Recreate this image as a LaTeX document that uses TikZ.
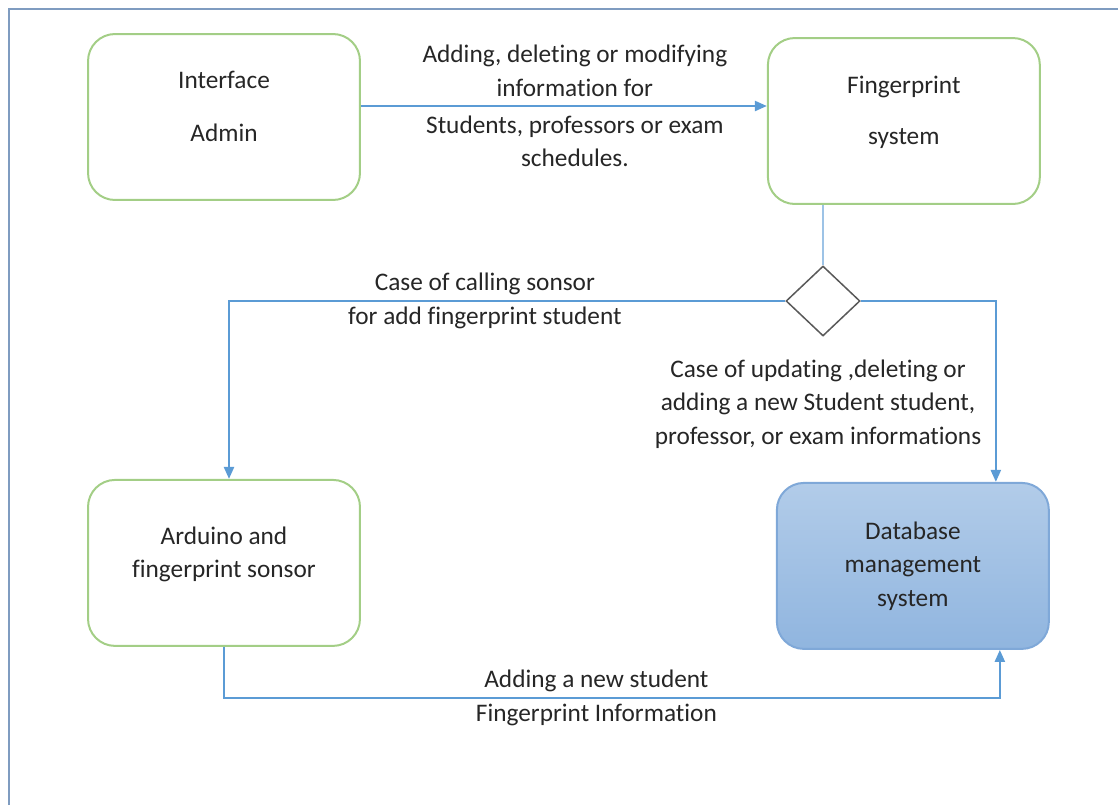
\documentclass[tikz,border=0pt]{standalone}
\usepackage{fontspec}
\setmainfont{Carlito}[Ligatures=NoCommon]
\usetikzlibrary{arrows.meta,positioning,shapes.geometric}
\definecolor{Ink}{HTML}{262626}
\definecolor{Frame}{HTML}{7F9CC0}
\definecolor{Leaf}{HTML}{A3CE86}
\definecolor{Wire}{HTML}{5B9BD5}
\definecolor{WireLight}{HTML}{9DC3E6}
\definecolor{DbTop}{HTML}{B2CCE9}
\definecolor{DbBottom}{HTML}{90B5DF}
\definecolor{DbEdge}{HTML}{7FA8D8}
\definecolor{Rim}{HTML}{595959}

\begin{document}
\begin{tikzpicture}[x=0.02cm,y=-0.02cm,
          box/.style={draw=Leaf,line width=0.04cm,rounded corners=0.54cm,minimum width=5.44cm,
            minimum height=3.32cm,align=center,text=Ink,font=\fontsize{14.4}{19}\selectfont},
          raised/.style={text depth=0.42cm},
          lbl/.style={align=center,text=Ink,font=\fontsize{14.4}{19}\selectfont,inner sep=0pt},
          flow/.style={-{Triangle[length=0.24cm,width=0.2cm]},draw=Wire,line width=0.045cm}]
        \useasboundingbox (0,0) rectangle (1118,805);
        \draw[Frame,line width=0.05cm] (9,805) -- (9,9) -- (1118,9);
        % the four blocks
        \node[box,raised] (admin) at (224,117) {Interface\\[11pt]Admin};
        \node[box,raised,right=8.12cm of admin,yshift=-0.08cm] (fp) {Fingerprint\\[10pt]system};
        \node[box,raised,below=5.56cm of admin] (ard) {Arduino and\\fingerprint sonsor};
        \node[box,draw=DbEdge,top color=DbTop,bottom color=DbBottom,below=5.54cm of fp,
          xshift=0.18cm] (db) {Database\\management\\system};
        \node[draw=Rim,line width=0.03cm,diamond,minimum width=1.48cm,minimum height=1.4cm,
          inner sep=0pt] (dec) at (823,301) {};
        % connectors
        \coordinate (tap) at ([yshift=0.22cm]admin.east);
        \draw[flow] (tap) -- (tap -| fp.west)
          node[lbl,pos=0.527] (editlbl) {Adding, deleting or modifying\\information for\\[2pt]Students, professors or exam\\schedules.};
        \draw[draw=WireLight,line width=0.05cm] (dec.north |- fp.south) -- (dec.north);
        \draw[flow] (dec.west) -| node[lbl,pos=0.27] (sensorlbl)
          {Case of calling sonsor\\for add fingerprint student} ([xshift=0.1cm]ard.north);
        \draw[flow] (dec.east) -| ([xshift=1.66cm]db.north);
        \node[lbl] (updatelbl) at (818,404)
          {Case of updating ,deleting or\\adding a new Student student,\\professor, or exam informations};
        \draw[flow] (ard.south) -- ++(0,51) -| node[lbl,pos=0.24] (printlbl)
          {Adding a new student\\Fingerprint Information} ([xshift=1.74cm]db.south);
      \end{tikzpicture}
\end{document}
